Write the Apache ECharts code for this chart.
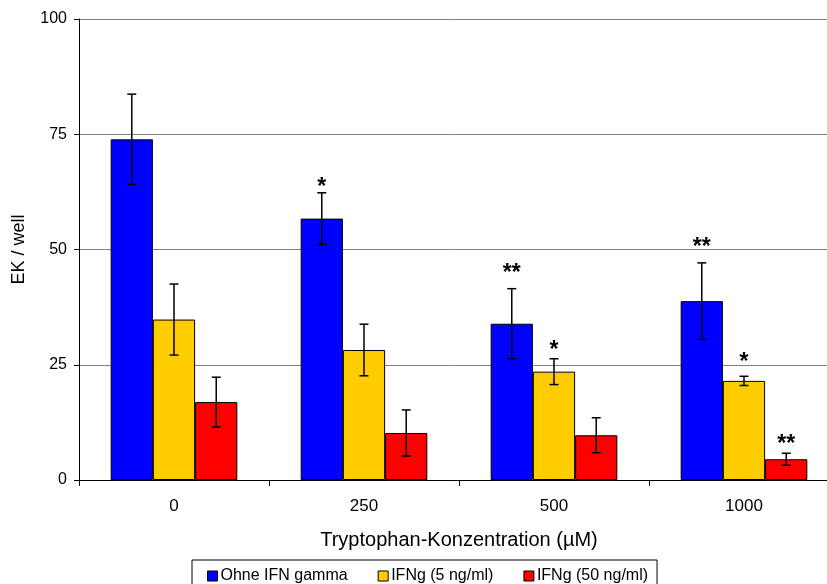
<!DOCTYPE html>
<html>
<head>
<meta charset="utf-8">
<script src="https://cdn.jsdelivr.net/npm/echarts@6/dist/echarts.min.js"></script>
<style>
  html, body { margin: 0; padding: 0; background: #fff; }
  #chart { width: 827px; height: 584px; }
</style>
</head>
<body>
<div id="chart"></div>
<script>
// Kategorien (Tryptophan-Konzentration in µM)
const categories = ['0', '250', '500', '1000']
const seriesNames = ['Ohne IFN gamma', 'IFNg (5 ng/ml)', 'IFNg (50 ng/ml)']

// Mittelwerte und Fehler (EK / well)
const ohneValues = [73.9, 56.7, 33.9, 38.8]
const ohneErrors = [9.8, 5.6, 7.6, 8.3]
const ifn5Values = [34.8, 28.2, 23.5, 21.5]
const ifn5Errors = [7.7, 5.6, 2.8, 1.0]
const ifn50Values = [16.9, 10.2, 9.7, 4.5]
const ifn50Errors = [5.4, 5.0, 3.8, 1.3]

// Signifikanz-Sterne und ihre Höhe (Wert auf der y-Achse)
const ohneSig = ['', '*', '**', '**']
const ohneSigY = [null, 64.7, 46.0, 51.8]
const ifn5Sig = ['', '', '*', '*']
const ifn5SigY = [null, null, 29.3, 26.7]
const ifn50Sig = ['', '', '', '**']
const ifn50SigY = [null, null, null, 8.9]

const yTicks = [0, 25, 50, 75, 100]

const colors = ['#0000ff', '#ffcc00', '#ff0000']
const font = "'Liberation Sans', Arial, sans-serif"
const gapRatio = 1 / 3

const groups = [
  { values: ohneValues, errors: ohneErrors, sig: ohneSig, sigY: ohneSigY },
  { values: ifn5Values, errors: ifn5Errors, sig: ifn5Sig, sigY: ifn5SigY },
  { values: ifn50Values, errors: ifn50Errors, sig: ifn50Sig, sigY: ifn50SigY }
]

// Fehlerbalken + Sterne
const errorSeries = function (g, k) {
  return {
    type: 'custom',
    z: 5,
    silent: true,
    data: categories.map((c, i) => [i, g.values[i], g.errors[i], g.sigY[i] == null ? NaN : g.sigY[i]]),
    renderItem: function (params, api) {
      const ci = api.value(0)
      const v = api.value(1)
      const e = api.value(2)
      const band = api.size([1, 0])[0]
      const bw = band * (1 - gapRatio) / 3
      const x = api.coord([ci, 0])[0] + (k - 1) * bw
      const top = api.coord([ci, v + e])[1]
      const bot = api.coord([ci, v - e])[1]
      const st = { stroke: '#000', lineWidth: 1.5 }
      const children = [
        { type: 'line', shape: { x1: x, y1: top, x2: x, y2: bot }, style: st },
        { type: 'line', shape: { x1: x - 4.5, y1: top, x2: x + 4.5, y2: top }, style: st },
        { type: 'line', shape: { x1: x - 4.5, y1: bot, x2: x + 4.5, y2: bot }, style: st }
      ]
      const s = g.sig[ci]
      if (s) {
        const sy = api.coord([ci, api.value(3)])[1]
        children.push({
          type: 'text',
          style: {
            x: x,
            y: sy + 6,
            text: s,
            fill: '#000',
            font: 'bold 23px ' + font,
            align: 'center',
            verticalAlign: 'middle'
          }
        })
      }
      return { type: 'group', children: children }
    }
  }
}

const series = []
groups.forEach((g, k) => {
  series.push({
    name: seriesNames[k],
    type: 'bar',
    data: g.values,
    barGap: '0%',
    barCategoryGap: (gapRatio * 100) + '%',
    itemStyle: { color: colors[k], borderColor: '#000', borderWidth: 1 }
  })
})
groups.forEach((g, k) => {
  series.push(errorSeries(g, k))
})

const chart = echarts.init(document.getElementById('chart'))
chart.setOption({
  animation: false,
  textStyle: { fontFamily: font },
  color: colors,
  grid: {
    left: 79,
    top: 19,
    width: 760,
    bottom: 104,
    outerBoundsMode: 'none'
  },
  legend: {
    data: seriesNames,
    left: 192,
    top: 560,
    orient: 'horizontal',
    icon: 'rect',
    itemWidth: 10,
    itemHeight: 10,
    itemGap: 30,
    padding: [8, 9, 8, 15],
    borderColor: '#000',
    borderWidth: 1,
    itemStyle: { borderColor: '#000', borderWidth: 1 },
    textStyle: { fontSize: 16, color: '#000', fontFamily: font, padding: [0, 0, 0, -2] }
  },
  xAxis: {
    type: 'category',
    data: categories,
    name: 'Tryptophan-Konzentration (µM)',
    nameLocation: 'middle',
    nameGap: 50,
    nameTextStyle: { fontSize: 20, color: '#000', fontFamily: font },
    axisLine: { lineStyle: { color: '#000', width: 1 } },
    axisTick: { show: true, length: 6, lineStyle: { color: '#000' } },
    axisLabel: { fontSize: 17, color: '#000', margin: 18 }
  },
  yAxis: {
    type: 'value',
    min: yTicks[0],
    max: yTicks[yTicks.length - 1],
    interval: yTicks[1] - yTicks[0],
    name: 'EK / well',
    nameLocation: 'middle',
    nameGap: 51,
    nameTextStyle: { fontSize: 18, color: '#000', fontFamily: font },
    axisLine: { show: true, lineStyle: { color: '#000', width: 1 } },
    axisTick: { show: true, length: 5, lineStyle: { color: '#000' } },
    axisLabel: { fontSize: 16, color: '#000', margin: 12 },
    splitLine: { show: true, lineStyle: { color: '#808080', width: 1 } }
  },
  series: series
})
</script>
</body>
</html>
